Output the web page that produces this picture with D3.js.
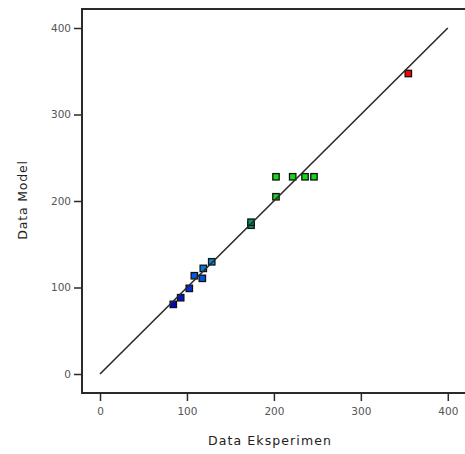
<!DOCTYPE html>
<html><head><meta charset="utf-8">
<script src="https://cdn.jsdelivr.net/npm/d3@7"></script>
<style>body{margin:0;background:#fff;} text{font-family:"DejaVu Sans",Verdana,sans-serif;}</style>
</head><body><svg id="c" width="465" height="454"></svg>
<script>
const xExp = [84.3, 92.8, 102.7, 108.5, 117.7, 118.8, 128.5, 173.7, 173.7, 202.4, 202.4, 221.6, 235.8, 246.1, 354.6];
const yModel = [80.5, 88.2, 99.0, 113.6, 110.6, 122.1, 129.7, 172.0, 175.5, 204.9, 228.0, 228.0, 228.0, 228.0, 347.4];
const xTicks = [0, 100, 200, 300, 400];
const yTicks = [0, 100, 200, 300, 400];
const xTitle = "Data Eksperimen";
const yTitle = "Data Model";

(function () {
const svg = d3.select("#c");
const x = d3.scaleLinear().domain([0, 400]).range([100, 447.8]);
const y = d3.scaleLinear().domain([0, 400]).range([374, 28]);
const color = d3.scaleLinear().domain([80, 100, 130, 175, 210, 230, 350])
  .range(["#0000c8", "#0030e8", "#0090d8", "#009a6a", "#20d820", "#18d818", "#ff0000"]);

const pl = 82, pt = 9, pb = 393, pr = 466;
svg.append("path").attr("d", `M${pr},${pt}H${pl}V${pb}H${pr}`)
  .attr("fill", "none").attr("stroke", "#2a2a2a").attr("stroke-width", 2);

const ya = svg.append("g").attr("transform", `translate(${pl},0)`)
  .call(d3.axisLeft(y).tickValues(yTicks).tickSize(8).tickPadding(3));
ya.select(".domain").remove();
ya.selectAll(".tick line").attr("stroke", "#2a2a2a").attr("stroke-width", 1.5);
ya.selectAll(".tick text").attr("fill", "#555").attr("font-size", 10.5).style("font-family", "DejaVu Sans");

const xa = svg.append("g").attr("transform", `translate(0,${pb})`)
  .call(d3.axisBottom(x).tickValues(xTicks).tickSize(8).tickPadding(7));
xa.select(".domain").remove();
xa.selectAll(".tick line").attr("stroke", "#2a2a2a").attr("stroke-width", 1.5);
xa.selectAll(".tick text").attr("fill", "#555").attr("font-size", 10.5).style("font-family", "DejaVu Sans");

const pts = xExp.map((d, i) => ({x: d, y: yModel[i]}));
svg.append("g").selectAll("rect").data(pts).join("rect")
  .attr("x", d => x(d.x) - 3.2).attr("y", d => y(d.y) - 3.2)
  .attr("width", 6.4).attr("height", 6.4)
  .attr("fill", d => color(d.y)).attr("stroke", "#111").attr("stroke-width", 1.3);

svg.append("line").attr("x1", x(0)).attr("y1", y(0)).attr("x2", x(400)).attr("y2", y(400))
  .attr("stroke", "#2a2a2a").attr("stroke-width", 1.6);

svg.append("text").attr("x", 270).attr("y", 445).attr("text-anchor", "middle")
  .attr("font-size", 12.5).attr("fill", "#222").attr("letter-spacing", 1.1).text(xTitle);
svg.append("text").attr("transform", "translate(27,200) rotate(-90)").attr("text-anchor", "middle")
  .attr("font-size", 12.5).attr("fill", "#222").attr("letter-spacing", 0.8).text(yTitle);
})();
</script></body></html>
